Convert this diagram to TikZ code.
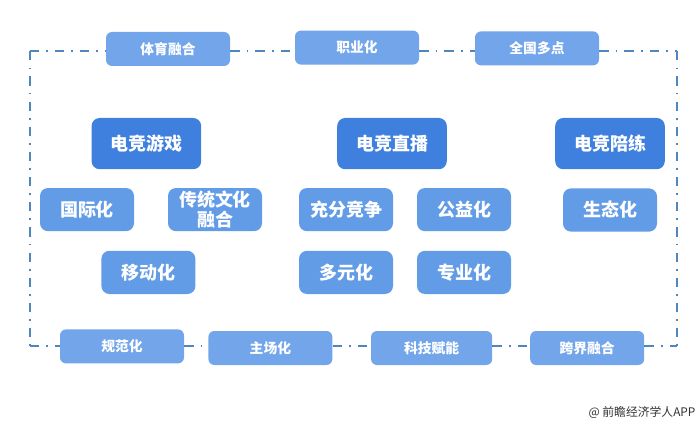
\documentclass[tikz,border=0pt]{standalone}
\usepackage{fontspec}
\setmainfont{Noto Sans CJK SC}
\usetikzlibrary{arrows.meta}
\definecolor{maincol}{HTML}{3F80DF}
\definecolor{midcol}{HTML}{629BE6}
\definecolor{subcol}{HTML}{72A5EA}
\definecolor{framecol}{HTML}{4F86BC}

\tikzset{
  mainbox/.style={fill=maincol,text=white,rounded corners=.2cm,minimum width=2.74cm,minimum height=1.28cm,inner sep=0pt,font=\fontsize{12.8pt}{15pt}\selectfont\bfseries},
  midbox/.style={fill=midcol,text=white,rounded corners=.2cm,minimum width=2.35cm,minimum height=1.08cm,inner sep=0pt,align=center,font=\fontsize{12.8pt}{14.5pt}\selectfont\bfseries},
  subbox/.style={fill=subcol,text=white,rounded corners=.15cm,minimum width=3.1cm,minimum height=.85cm,inner sep=0pt,font=\fontsize{9.8pt}{12pt}\selectfont\bfseries}
}

\begin{document}
\begin{tikzpicture}
    \useasboundingbox (0,0) rectangle (17.5,-10.6);

    \node[subbox] (sport) at (4.2,-1.225) {体育融合};
    \node[subbox] (career) at (8.925,-1.19) {职业化};
    \node[subbox] (nation) at (13.425,-1.21) {全国多点};

    \node[mainbox] (game) at (3.66,-3.59) {电竞游戏};
    \node[mainbox] (live) at (9.8,-3.59) {电竞直播};
    \node[mainbox] (coach) at (15.25,-3.59) {电竞陪练};

    \node[midbox] (global) at (2.175,-5.24) {国际化};
    \node[midbox] (culture) at (5.375,-5.24) {传统文化\\融合};
    \node[midbox] (compete) at (8.65,-5.24) {充分竞争};
    \node[midbox] (charity) at (11.6,-5.24) {公益化};
    \node[midbox] (eco) at (15.25,-5.25) {生态化};
    \node[midbox] (mobile) at (3.71,-6.81) {移动化};
    \node[midbox] (diverse) at (8.65,-6.81) {多元化};
    \node[midbox] (expert) at (11.6,-6.81) {专业化};

    \node[subbox] (norm) at (3.05,-8.66) {规范化};
    \node[subbox] (home) at (6.76,-8.7) {主场化};
    \node[subbox,minimum width=3.03cm] (tech) at (10.79,-8.7) {科技赋能};
    \node[subbox,minimum width=2.85cm] (cross) at (14.68,-8.7) {跨界融合};

    \coordinate (tl) at (.74,-1.28);
    \coordinate (tr) at (16.93,-1.28);
    \coordinate (br) at (16.93,-8.66);
    \coordinate (bl) at (.74,-8.66);

    \path[framecol,line width=1.3pt,dash pattern=on 6.6pt off 5pt on 1.3pt off 5pt]
    (tl) edge (sport.west |- tl)
    (sport.east |- tl) edge (career.west |- tl)
    (career.east |- tl) edge (nation.west |- tl)
    (nation.east |- tl) edge (tr)
    (tr) edge (br)
    (tl) edge (bl)
    (bl) edge (norm.west |- bl)
    (norm.east |- bl) edge (home.west |- bl)
    (home.east |- bl) edge (tech.west |- bl)
    (tech.east |- bl) edge (cross.west |- bl)
    (cross.east |- bl) edge (br);

    \node[font=\fontsize{8.4pt}{10pt}\selectfont,text=black!80] (credit) at (16.05,-10.32) {@ 前瞻经济学人APP};
  \end{tikzpicture}
\end{document}
